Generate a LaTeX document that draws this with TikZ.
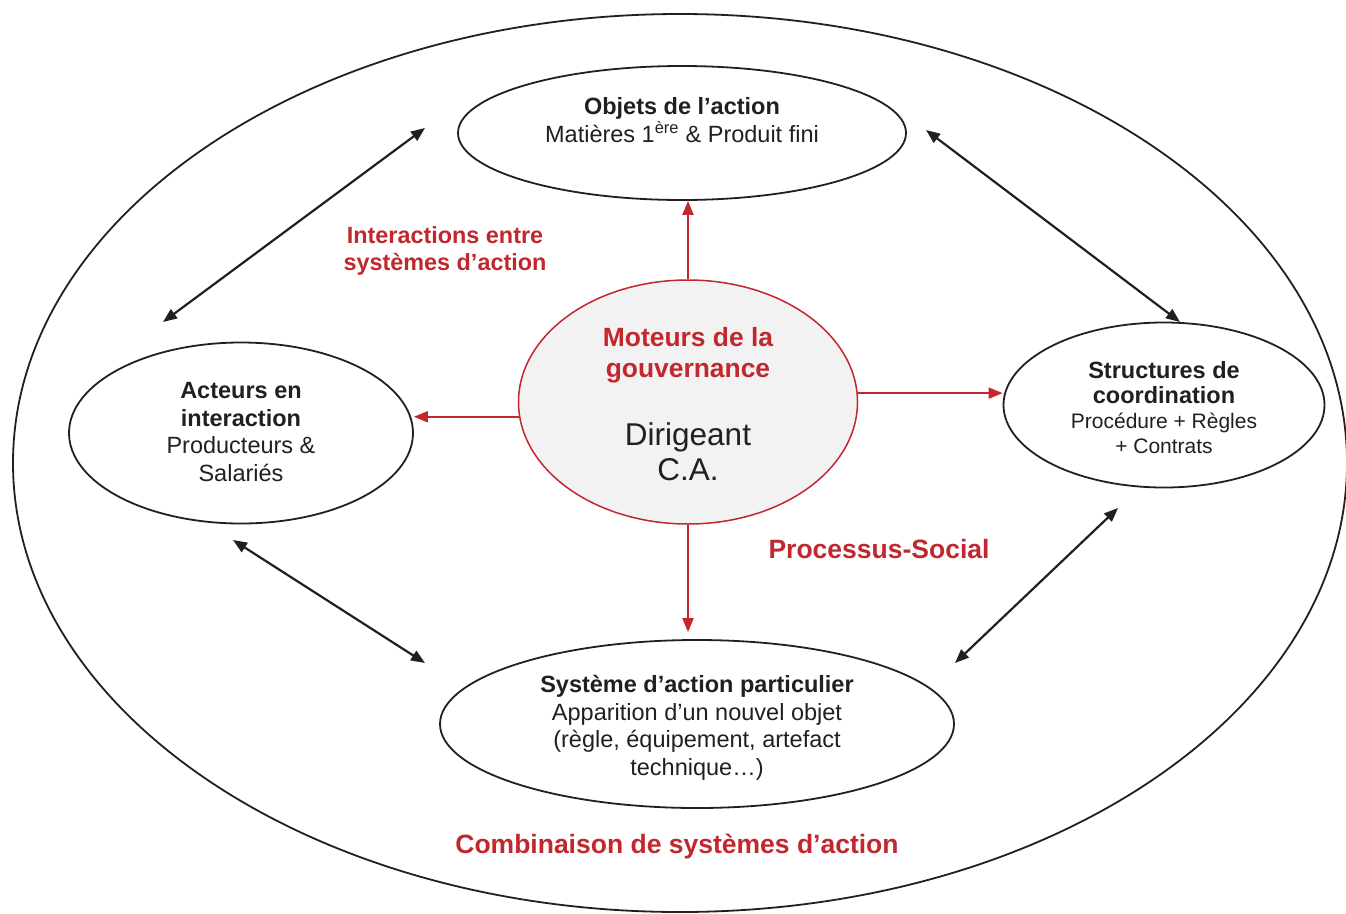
\documentclass[tikz,border=0pt]{standalone}
\usepackage{fontspec}
\setmainfont{Liberation Sans}
\usetikzlibrary{shapes.geometric,arrows.meta}
\definecolor{rd}{HTML}{C1272D}
\definecolor{ink}{HTML}{231F20}
\definecolor{lg}{HTML}{F2F2F2}
\begin{document}
\begin{tikzpicture}[x=1pt,y=-1pt,
  ell/.style={ellipse,draw=ink,line width=1.8pt,inner sep=0pt},
  txt/.style={align=center,text=ink,inner sep=0pt},
  rtxt/.style={align=center,text=rd,inner sep=0pt,font=\bfseries},
  redarr/.style={draw=rd,line width=2pt,-{Triangle[length=14pt,width=11pt]}},
  blkarr/.style={draw=ink,line width=2.2pt,{Triangle[length=14pt,width=11pt]}-{Triangle[length=14pt,width=11pt]}},
  fs/.style={font=\fontsize{23.5}{27.5}\selectfont}
]
\useasboundingbox (0,0) rectangle (1346,913);
\clip (0,0) rectangle (1346,913);
\fill[white] (0,0) rectangle (1346,913);

% outer ellipse
\node[ell,minimum width=1334pt,minimum height=898pt] (outer) at (680,463) {};

% inner ellipses
\node[ell,minimum width=448pt,minimum height=134pt] (obj) at (682,133) {};
\node[ell,minimum width=344pt,minimum height=181pt] (act) at (241,433) {};
\node[ell,minimum width=321pt,minimum height=165pt] (str) at (1164,405) {};
\node[ell,minimum width=514pt,minimum height=168pt] (sys) at (697,724) {};
\node[ellipse,draw=rd,fill=lg,line width=1.5pt,inner sep=0pt,minimum width=339pt,minimum height=244pt] (c) at (688,402) {};

% texts
\node[txt,fs] (tobj) at (682,120) {\textbf{Objets de l’action}\\Matières 1\textsuperscript{ère} \& Produit fini};
\node[txt,fs] (tact) at (241,432) {\textbf{Acteurs en}\\\textbf{interaction}\\Producteurs \&\\Salariés};
\node[txt,font=\fontsize{21}{25}\selectfont] (tstr) at (1164,408) {{\fontsize{23.5}{27.5}\selectfont\textbf{Structures de}}\\{\fontsize{23.5}{27.5}\selectfont\textbf{coordination}}\\Procédure + Règles\\+ Contrats};
\node[txt,fs] (tsys) at (697,728) {\textbf{Système d’action particulier}\\Apparition d’un nouvel objet\\(règle, équipement, artefact\\technique…)};
\node[rtxt,font=\fontsize{26.4}{31}\selectfont\bfseries] (tmot) at (688,355) {Moteurs de la\\gouvernance};
\node[txt,font=\fontsize{31.5}{35}\selectfont] (tdir) at (688,452) {Dirigeant\\C.A.};

\node[rtxt,font=\fontsize{23.4}{27}\selectfont\bfseries] (tint) at (445,251) {Interactions entre\\systèmes d’action};
\node[rtxt,font=\fontsize{26.5}{31}\selectfont\bfseries] (tproc) at (879,549) {Processus-Social};
\node[rtxt,font=\fontsize{26.5}{31}\selectfont\bfseries] (tcomb) at (677,847) {Combinaison de systèmes d’action};

% red arrows
\draw[redarr] (c.north) -- (c.north |- obj.south);
\draw[redarr] (c.185) -- (c.185 -| act.east);
\draw[redarr] (c.3) -- (c.3 -| str.west);
\draw[redarr,shorten >=7pt] (c.south) -- (c.south |- sys.north);

% black double arrows
\coordinate (p1a) at (425,128);
\coordinate (p1b) at (163,322);
\coordinate (p2a) at (926,130);
\coordinate (p2b) at (1180,322);
\coordinate (p3a) at (233,540);
\coordinate (p3b) at (425,663);
\coordinate (p4a) at (1118,508);
\coordinate (p4b) at (955,663);
\draw[blkarr] (p1a) -- (p1b);
\draw[blkarr] (p2a) -- (p2b);
\draw[blkarr] (p3a) -- (p3b);
\draw[blkarr] (p4a) -- (p4b);
\end{tikzpicture}
\end{document}
